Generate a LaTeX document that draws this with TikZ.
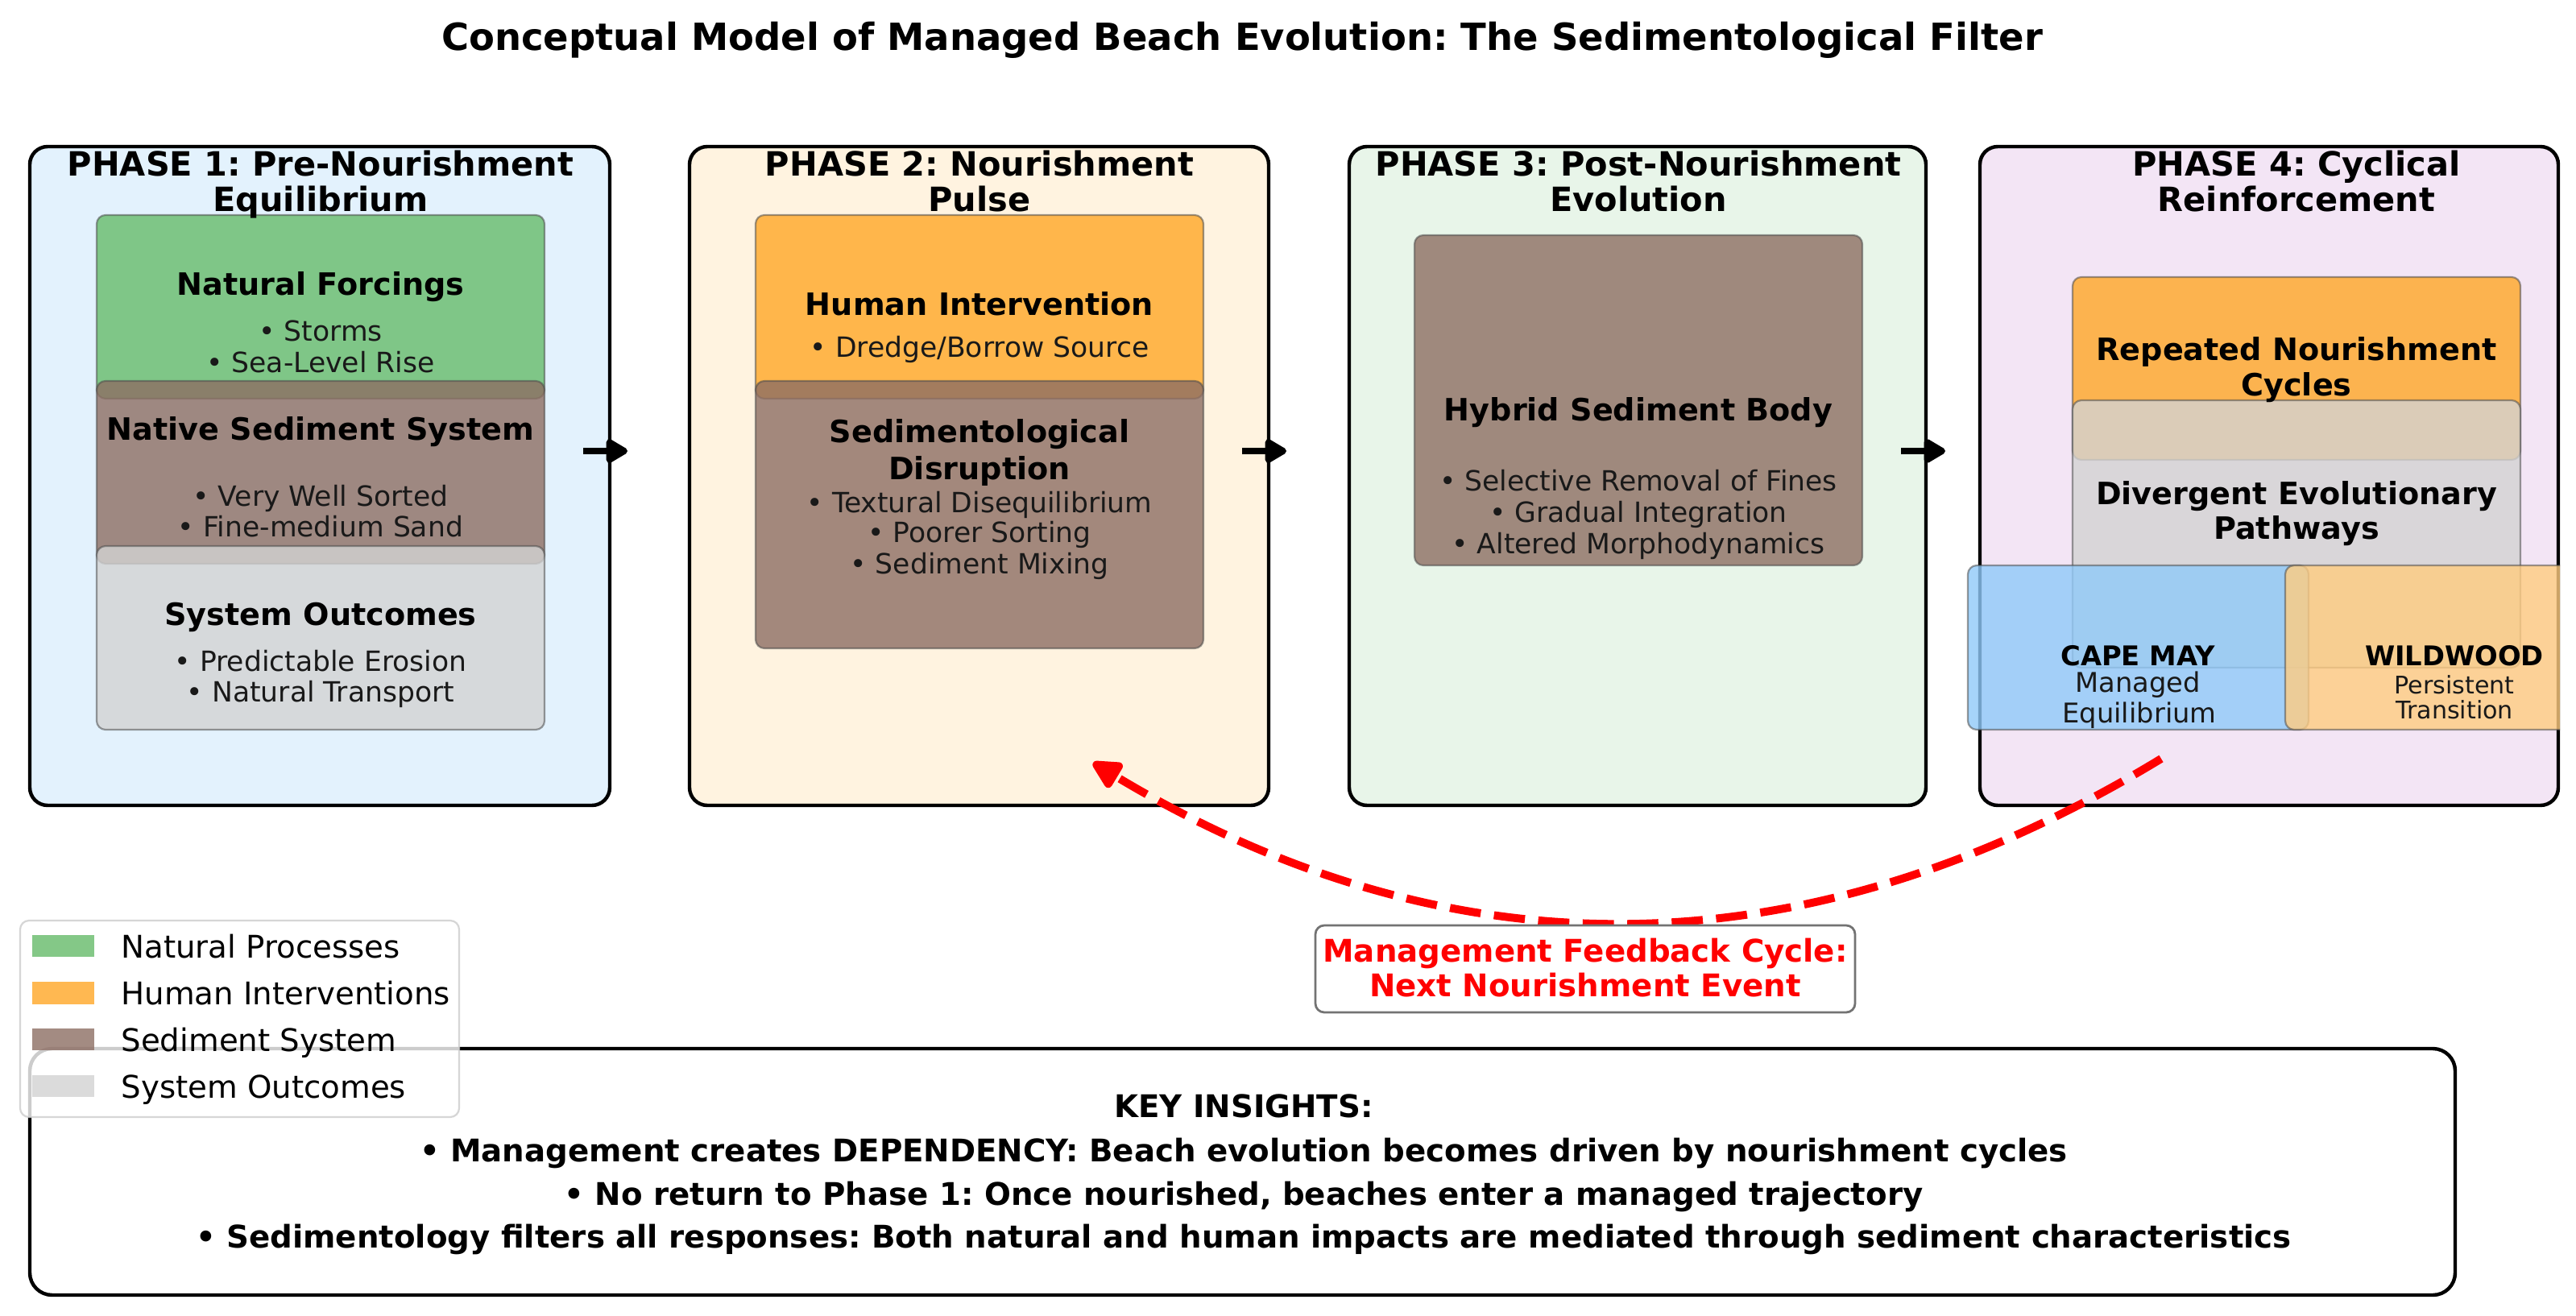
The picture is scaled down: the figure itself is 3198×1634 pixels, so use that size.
\documentclass[tikz,border=0pt]{standalone}
\usepackage{fontspec}
\setmainfont{DejaVu Sans}
\usetikzlibrary{arrows.meta}
\frenchspacing
\definecolor{bgA}{HTML}{E3F2FD}
\definecolor{bgB}{HTML}{FFF3E0}
\definecolor{bgC}{HTML}{E8F5E9}
\definecolor{bgD}{HTML}{F3E5F5}
\definecolor{natc}{HTML}{66BB6A}
\definecolor{humc}{HTML}{FFA726}
\definecolor{sedc}{HTML}{8D6E63}
\definecolor{outc}{HTML}{D3D3D3}
\definecolor{cmc}{HTML}{90CAF9}
\definecolor{wwc}{HTML}{FFCC80}
\newcommand\bx[6]{\node[#6, minimum width={(#4-#2)*0.361576pt}, minimum height={(#5-#3)*0.361576pt}] (#1) at ({(#2+#4)/2},{(#3+#5)/2}) {};}
\tikzset{
  phasebox/.style={draw=black, line width=1.6pt, rounded corners=8pt, inner sep=0pt},
  subbox/.style={draw=black!70, draw opacity=0.55, line width=0.8pt, rounded corners=4pt, fill opacity=0.8, inner sep=0pt},
  ttl/.style={font=\bfseries\fontsize{16.8}{20}\selectfont, inner sep=0pt, text height=12.2pt, text depth=0pt},
  phtxt/.style={font=\bfseries\fontsize{15}{18}\selectfont, inner sep=0pt, text height=10.9pt, text depth=0pt},
  hdtxt/.style={font=\bfseries\fontsize{13.8}{16}\selectfont, inner sep=0pt, text height=10.06pt, text depth=0pt},
  bltxt/.style={font=\fontsize{12.5}{15}\selectfont, inner sep=0pt, text height=9.1pt, text depth=0pt, text=black!90},
  cmtxt/.style={font=\bfseries\fontsize{12.2}{14}\selectfont, inner sep=0pt, text height=8.9pt, text depth=0pt},
  cmsub/.style={font=\fontsize{12.2}{14}\selectfont, inner sep=0pt, text height=8.9pt, text depth=0pt, text=black!90},
  wwsub/.style={font=\fontsize{10.9}{13}\selectfont, inner sep=0pt, text height=7.95pt, text depth=0pt, text=black!90},
  legtxt/.style={font=\fontsize{14}{16}\selectfont, inner sep=0pt, text height=10.2pt, text depth=0pt, anchor=west},
  keytxt/.style={font=\bfseries\fontsize{14}{17}\selectfont, inner sep=0pt, text height=10.2pt, text depth=0pt},
  fbtxt/.style={font=\bfseries\fontsize{14}{17}\selectfont, inner sep=0pt, text height=10.2pt, text depth=0pt, text=red},
  flowarrow/.style={draw=black, line width=3pt, -{Triangle[length=11pt,width=12pt,round]}},
  fbarrow/.style={draw=red, line width=3.6pt, dash pattern=on 14pt off 6pt, -{Triangle[length=15pt,width=14pt,round]}},
  legpatch/.style={fill opacity=0.8, inner sep=0pt}
}
\begin{document}
\begin{tikzpicture}[x=0.361576pt, y=-0.361576pt]
\useasboundingbox (0,0) rectangle (3198,1634);
\fill[white] (0,0) rectangle (3198,1634);
% title
\node[ttl] (title) at (1542,46) {Conceptual Model of Managed Beach Evolution: The Sedimentological Filter};
% phase boxes
\bx{p1}{37}{182}{757}{1000}{phasebox, fill=bgA}
\bx{p2}{856}{182}{1575}{1000}{phasebox, fill=bgB}
\bx{p3}{1675}{182}{2391}{1000}{phasebox, fill=bgC}
\bx{p4}{2458}{182}{3176}{1000}{phasebox, fill=bgD}
% flow arrows
\coordinate (a1s) at (724,560); \coordinate (a1e) at (779,560);
\coordinate (a2s) at (1542,560); \coordinate (a2e) at (1597,560);
\coordinate (a3s) at (2360,560); \coordinate (a3e) at (2415,560);
\draw[flowarrow] (a1s) -- (a1e);
\draw[flowarrow] (a2s) -- (a2e);
\draw[flowarrow] (a3s) -- (a3e);
% phase 1 inner boxes
\bx{nfb}{120}{267}{676}{495}{subbox, fill=natc}
\bx{nsb}{120}{473}{676}{700}{subbox, fill=sedc}
\bx{sob}{120}{678}{676}{906}{subbox, fill=outc}
% phase 2 inner boxes
\bx{hib}{938}{267}{1494}{495}{subbox, fill=humc}
\bx{sdb}{938}{473}{1494}{805}{subbox, fill=sedc}
% phase 3 inner box
\bx{hyb}{1756}{292}{2312}{702}{subbox, fill=sedc}
% phase 4 inner boxes
\bx{rnb}{2573}{344}{3129}{571}{subbox, fill=humc}
\bx{dvb}{2573}{497}{3129}{829}{subbox, fill=outc}
% phase titles
\node[phtxt] (ph1a) at (398,203) {PHASE 1: Pre-Nourishment};
\node[phtxt] (ph1b) at (398,247) {Equilibrium};
\node[phtxt] (ph2a) at (1216,203) {PHASE 2: Nourishment};
\node[phtxt] (ph2b) at (1216,247) {Pulse};
\node[phtxt] (ph3a) at (2034,203) {PHASE 3: Post-Nourishment};
\node[phtxt] (ph3b) at (2034,247) {Evolution};
\node[phtxt] (ph4a) at (2851,203) {PHASE 4: Cyclical};
\node[phtxt] (ph4b) at (2851,247) {Reinforcement};
% phase 1 texts
\node[hdtxt] (nf) at (398,353) {Natural Forcings};
\node[bltxt] (nf1) at (398,411) {• Storms};
\node[bltxt] (nf2) at (398,450) {• Sea-Level Rise};
\node[hdtxt] (ns) at (398,533) {Native Sediment System};
\node[bltxt] (ns1) at (398,616) {• Very Well Sorted};
\node[bltxt] (ns2) at (398,654) {• Fine-medium Sand};
\node[hdtxt] (so) at (398,763) {System Outcomes};
\node[bltxt] (so1) at (398,821) {• Predictable Erosion};
\node[bltxt] (so2) at (398,859) {• Natural Transport};
% phase 2 texts
\node[hdtxt] (hi) at (1216,378) {Human Intervention};
\node[bltxt] (hi1) at (1216,431) {• Dredge/Borrow Source};
\node[hdtxt] (sd) at (1216,536) {Sedimentological};
\node[hdtxt] (sdb2) at (1216,582) {Disruption};
\node[bltxt] (sd1) at (1216,624) {• Textural Disequilibrium};
\node[bltxt] (sd2) at (1216,661) {• Poorer Sorting};
\node[bltxt] (sd3) at (1216,700) {• Sediment Mixing};
% phase 3 texts
\node[hdtxt] (hy) at (2034,509) {Hybrid Sediment Body};
\node[bltxt] (hy1) at (2034,597) {• Selective Removal of Fines};
\node[bltxt] (hy2) at (2034,636) {• Gradual Integration};
\node[bltxt] (hy3) at (2034,675) {• Altered Morphodynamics};
% phase 4 texts
\node[hdtxt] (rn) at (2851,434) {Repeated Nourishment};
\node[hdtxt] (rn2) at (2851,478) {Cycles};
\node[hdtxt] (dv) at (2851,613) {Divergent Evolutionary};
\node[hdtxt] (dv2) at (2851,656) {Pathways};
% pathways
\bx{cmb}{2443}{702}{2866}{906}{subbox, fill=cmc}
\begin{scope}
\clip (2400,680) rectangle (3178,930);
\bx{wwb}{2837}{702}{3260}{906}{subbox, fill=wwc}
\end{scope}
\node[cmtxt] (cm) at (2654,814) {CAPE MAY};
\node[cmsub] (cm1) at (2654,847) {Managed};
\node[cmsub] (cm2) at (2656,885) {Equilibrium};
\node[cmtxt] (ww) at (3047,814) {WILDWOOD};
\node[wwsub] (ww1) at (3047,851) {Persistent};
\node[wwsub] (ww2) at (3047,882) {Transition};
% feedback loop (quadratic curve as cubic)
\coordinate (fbs) at (2683,942);
\coordinate (fbc1) at (2241,1211);
\coordinate (fbc2) at (1799,1213);
\coordinate (fbe) at (1357,947);
\draw[fbarrow] (fbs) .. controls (fbc1) and (fbc2) .. (fbe);
\bx{fbl}{1633}{1149}{2303}{1257}{draw=black!55, fill=white, rounded corners=4pt, line width=1pt, inner sep=0pt}
\node[fbtxt] (fb1) at (1968,1180) {Management Feedback Cycle:};
\node[fbtxt] (fb2) at (1968,1223) {Next Nourishment Event};
% key insights
\bx{key}{37}{1302}{3048}{1608}{phasebox, fill=white, rounded corners=10pt}
\node[keytxt] (k0) at (1544,1373) {KEY INSIGHTS:};
\node[keytxt] (k1) at (1544,1428) {• Management creates DEPENDENCY: Beach evolution becomes driven by nourishment cycles};
\node[keytxt] (k2) at (1544,1482) {• No return to Phase 1: Once nourished, beaches enter a managed trajectory};
\node[keytxt] (k3) at (1544,1535) {• Sedimentology filters all responses: Both natural and human impacts are mediated through sediment characteristics};
% legend
\bx{leg}{25}{1143}{570}{1387}{draw=black!20, fill=white, fill opacity=0.8, draw opacity=0.8, rounded corners=4pt, line width=0.8pt, inner sep=0pt}
\bx{lp1}{40}{1161}{117}{1188}{legpatch, fill=natc}
\bx{lp2}{40}{1219}{117}{1247}{legpatch, fill=humc}
\bx{lp3}{40}{1277}{117}{1304}{legpatch, fill=sedc}
\bx{lp4}{40}{1335}{117}{1362}{legpatch, fill=outc}
\node[legtxt] (l1) at (150,1175) {Natural Processes};
\node[legtxt] (l2) at (150,1233) {Human Interventions};
\node[legtxt] (l3) at (150,1291) {Sediment System};
\node[legtxt] (l4) at (150,1349) {System Outcomes};
\end{tikzpicture}
\end{document}
